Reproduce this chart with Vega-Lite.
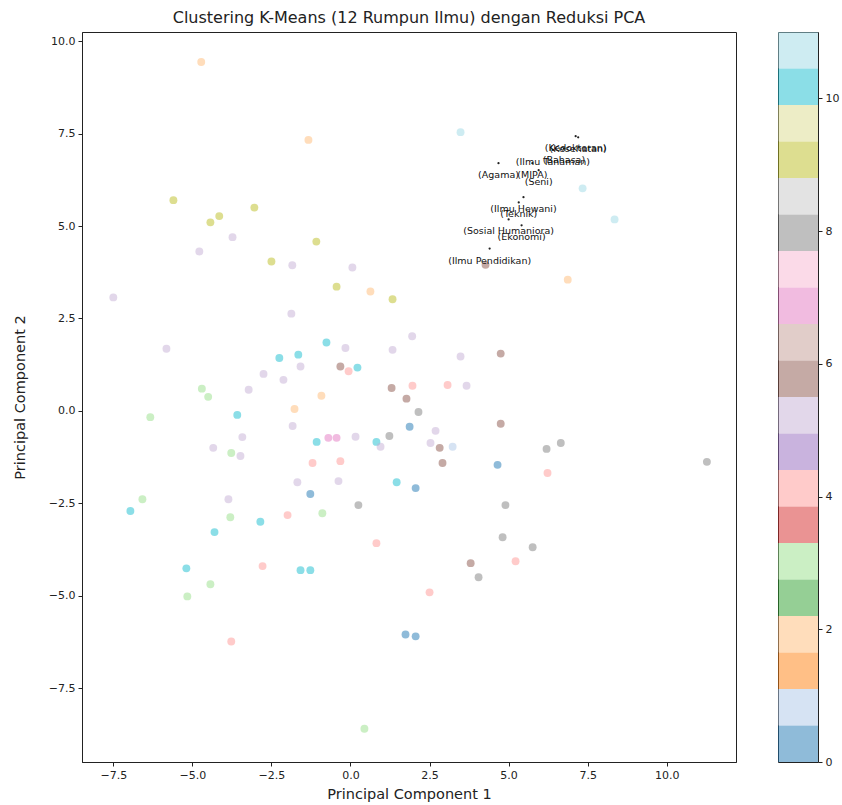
{
  "$schema": "https://vega.github.io/schema/vega-lite/v6.json",
  "background": "white",
  "padding": {"left": 11, "top": 9, "right": 5, "bottom": 5},
  "spacing": 40,
  "config": {
    "font": "DejaVu Sans",
    "view": {"stroke": "#222", "strokeWidth": 1},
    "axis": {
      "grid": false,
      "labelFont": "DejaVu Sans",
      "labelFontSize": 11,
      "labelColor": "#222",
      "titleFont": "DejaVu Sans",
      "titleFontSize": 14.5,
      "titleFontWeight": "normal",
      "titleColor": "#222",
      "tickColor": "#222",
      "domainColor": "#222",
      "tickSize": 4,
      "labelPadding": 3
    }
  },
  "datasets": {
    "points": [
      {"pc1": -4.72, "pc2": 9.44, "cluster": 2},
      {"pc1": -1.33, "pc2": 7.33, "cluster": 2},
      {"pc1": 3.48, "pc2": 7.54, "cluster": 11},
      {"pc1": 7.34, "pc2": 6.02, "cluster": 11},
      {"pc1": 8.35, "pc2": 5.18, "cluster": 11},
      {"pc1": 6.87, "pc2": 3.55, "cluster": 2},
      {"pc1": 4.27, "pc2": 3.95, "cluster": 6},
      {"pc1": -5.6, "pc2": 5.7, "cluster": 9},
      {"pc1": -4.43, "pc2": 5.1, "cluster": 9},
      {"pc1": -4.15, "pc2": 5.27, "cluster": 9},
      {"pc1": -3.04, "pc2": 5.5, "cluster": 9},
      {"pc1": -2.5, "pc2": 4.04, "cluster": 9},
      {"pc1": -1.08, "pc2": 4.58, "cluster": 9},
      {"pc1": -0.44, "pc2": 3.36, "cluster": 9},
      {"pc1": 1.33, "pc2": 3.02, "cluster": 9},
      {"pc1": 0.63, "pc2": 3.23, "cluster": 2},
      {"pc1": -4.78, "pc2": 4.31, "cluster": 5},
      {"pc1": -3.73, "pc2": 4.7, "cluster": 5},
      {"pc1": -1.84, "pc2": 3.94, "cluster": 5},
      {"pc1": 0.06, "pc2": 3.88, "cluster": 5},
      {"pc1": -1.87, "pc2": 2.63, "cluster": 5},
      {"pc1": -7.5, "pc2": 3.07, "cluster": 5},
      {"pc1": -5.82, "pc2": 1.68, "cluster": 5},
      {"pc1": -0.76, "pc2": 1.85, "cluster": 10},
      {"pc1": -0.16, "pc2": 1.7, "cluster": 5},
      {"pc1": 1.33, "pc2": 1.65, "cluster": 5},
      {"pc1": 1.95, "pc2": 2.02, "cluster": 5},
      {"pc1": -2.25, "pc2": 1.43, "cluster": 10},
      {"pc1": -1.65, "pc2": 1.52, "cluster": 10},
      {"pc1": -1.58, "pc2": 1.2, "cluster": 5},
      {"pc1": -0.32, "pc2": 1.2, "cluster": 6},
      {"pc1": -0.06, "pc2": 1.07, "cluster": 4},
      {"pc1": 0.22, "pc2": 1.17, "cluster": 10},
      {"pc1": -2.75, "pc2": 1.0, "cluster": 5},
      {"pc1": -2.12, "pc2": 0.84, "cluster": 5},
      {"pc1": -4.7, "pc2": 0.6, "cluster": 3},
      {"pc1": -4.5, "pc2": 0.38, "cluster": 3},
      {"pc1": -3.22, "pc2": 0.57, "cluster": 5},
      {"pc1": -6.33, "pc2": -0.17, "cluster": 3},
      {"pc1": -3.58, "pc2": -0.11, "cluster": 10},
      {"pc1": -1.77, "pc2": 0.05, "cluster": 2},
      {"pc1": -0.92, "pc2": 0.41, "cluster": 2},
      {"pc1": -1.83, "pc2": -0.41, "cluster": 5},
      {"pc1": 1.3, "pc2": 0.62, "cluster": 6},
      {"pc1": 1.96, "pc2": 0.68, "cluster": 4},
      {"pc1": 1.77, "pc2": 0.33, "cluster": 6},
      {"pc1": 1.87, "pc2": -0.43, "cluster": 0},
      {"pc1": 1.23, "pc2": -0.68, "cluster": 8},
      {"pc1": 0.82, "pc2": -0.84, "cluster": 10},
      {"pc1": 0.95, "pc2": -0.97, "cluster": 5},
      {"pc1": 0.16, "pc2": -0.7, "cluster": 5},
      {"pc1": -0.7, "pc2": -0.73, "cluster": 7},
      {"pc1": -0.44, "pc2": -0.73, "cluster": 7},
      {"pc1": -1.07, "pc2": -0.84, "cluster": 10},
      {"pc1": -3.42, "pc2": -0.71, "cluster": 5},
      {"pc1": -4.34, "pc2": -1.0, "cluster": 5},
      {"pc1": -3.77, "pc2": -1.14, "cluster": 3},
      {"pc1": -3.48, "pc2": -1.22, "cluster": 5},
      {"pc1": -1.2, "pc2": -1.41, "cluster": 4},
      {"pc1": -0.32, "pc2": -1.36, "cluster": 4},
      {"pc1": 1.46, "pc2": -1.93, "cluster": 10},
      {"pc1": -0.38, "pc2": -1.9, "cluster": 5},
      {"pc1": -1.68, "pc2": -1.93, "cluster": 5},
      {"pc1": -1.27, "pc2": -2.25, "cluster": 0},
      {"pc1": 0.25, "pc2": -2.55, "cluster": 8},
      {"pc1": -3.86, "pc2": -2.39, "cluster": 5},
      {"pc1": -6.58, "pc2": -2.39, "cluster": 3},
      {"pc1": -6.96, "pc2": -2.71, "cluster": 10},
      {"pc1": -3.8, "pc2": -2.88, "cluster": 3},
      {"pc1": -1.99, "pc2": -2.82, "cluster": 4},
      {"pc1": -0.89, "pc2": -2.77, "cluster": 3},
      {"pc1": -2.85, "pc2": -3.0, "cluster": 10},
      {"pc1": -4.3, "pc2": -3.28, "cluster": 10},
      {"pc1": 0.82, "pc2": -3.58, "cluster": 4},
      {"pc1": 2.06, "pc2": -2.09, "cluster": 0},
      {"pc1": 3.48, "pc2": 1.47, "cluster": 5},
      {"pc1": 4.75, "pc2": 1.55, "cluster": 6},
      {"pc1": 3.07, "pc2": 0.7, "cluster": 4},
      {"pc1": 3.67, "pc2": 0.68, "cluster": 5},
      {"pc1": 2.15, "pc2": -0.03, "cluster": 8},
      {"pc1": 2.69, "pc2": -0.54, "cluster": 5},
      {"pc1": 2.53, "pc2": -0.87, "cluster": 5},
      {"pc1": 2.82, "pc2": -1.0, "cluster": 6},
      {"pc1": 3.23, "pc2": -0.97, "cluster": 1},
      {"pc1": 2.91, "pc2": -1.41, "cluster": 6},
      {"pc1": 4.75, "pc2": -0.35, "cluster": 6},
      {"pc1": 4.65, "pc2": -1.46, "cluster": 0},
      {"pc1": 6.2, "pc2": -1.03, "cluster": 8},
      {"pc1": 6.65, "pc2": -0.87, "cluster": 8},
      {"pc1": 6.23, "pc2": -1.68, "cluster": 4},
      {"pc1": 11.27, "pc2": -1.38, "cluster": 8},
      {"pc1": 4.9, "pc2": -2.55, "cluster": 8},
      {"pc1": 4.81, "pc2": -3.42, "cluster": 8},
      {"pc1": 5.76, "pc2": -3.69, "cluster": 8},
      {"pc1": 3.8, "pc2": -4.12, "cluster": 6},
      {"pc1": 4.05, "pc2": -4.5, "cluster": 8},
      {"pc1": 5.22, "pc2": -4.07, "cluster": 4},
      {"pc1": 2.5, "pc2": -4.91, "cluster": 4},
      {"pc1": 1.74, "pc2": -6.05, "cluster": 0},
      {"pc1": 2.06, "pc2": -6.1, "cluster": 0},
      {"pc1": -5.19, "pc2": -4.26, "cluster": 10},
      {"pc1": -4.43, "pc2": -4.69, "cluster": 3},
      {"pc1": -5.16, "pc2": -5.02, "cluster": 3},
      {"pc1": -3.77, "pc2": -6.24, "cluster": 4},
      {"pc1": -1.58, "pc2": -4.31, "cluster": 10},
      {"pc1": -1.27, "pc2": -4.31, "cluster": 10},
      {"pc1": 0.44, "pc2": -8.6, "cluster": 3},
      {"pc1": -2.78, "pc2": -4.2, "cluster": 4}
    ],
    "labels": [
      {"pc1": 7.12, "pc2": 7.43, "name": "(Kedokteran)"},
      {"pc1": 7.2, "pc2": 7.4, "name": "(Kesehatan)"},
      {"pc1": 6.4, "pc2": 7.06, "name": "(Ilmu Tanaman)"},
      {"pc1": 6.75, "pc2": 7.1, "name": "(Bahasa)"},
      {"pc1": 4.68, "pc2": 6.7, "name": "(Agama)"},
      {"pc1": 5.75, "pc2": 6.7, "name": "(MIPA)"},
      {"pc1": 5.95, "pc2": 6.51, "name": "(Seni)"},
      {"pc1": 5.47, "pc2": 5.78, "name": "(Ilmu Hewani)"},
      {"pc1": 5.32, "pc2": 5.64, "name": "(Teknik)"},
      {"pc1": 5.0, "pc2": 5.18, "name": "(Sosial Humaniora)"},
      {"pc1": 5.41, "pc2": 5.02, "name": "(Ekonomi)"},
      {"pc1": 4.4, "pc2": 4.39, "name": "(Ilmu Pendidikan)"}
    ],
    "bands": [
      {"band": 0, "lo": 0.0, "hi": 0.55},
      {"band": 1, "lo": 0.55, "hi": 1.1},
      {"band": 2, "lo": 1.1, "hi": 1.65},
      {"band": 3, "lo": 1.65, "hi": 2.2},
      {"band": 4, "lo": 2.2, "hi": 2.75},
      {"band": 5, "lo": 2.75, "hi": 3.3},
      {"band": 6, "lo": 3.3, "hi": 3.85},
      {"band": 7, "lo": 3.85, "hi": 4.4},
      {"band": 8, "lo": 4.4, "hi": 4.95},
      {"band": 9, "lo": 4.95, "hi": 5.5},
      {"band": 10, "lo": 5.5, "hi": 6.05},
      {"band": 11, "lo": 6.05, "hi": 6.6},
      {"band": 12, "lo": 6.6, "hi": 7.15},
      {"band": 13, "lo": 7.15, "hi": 7.7},
      {"band": 14, "lo": 7.7, "hi": 8.25},
      {"band": 15, "lo": 8.25, "hi": 8.8},
      {"band": 16, "lo": 8.8, "hi": 9.35},
      {"band": 17, "lo": 9.35, "hi": 9.9},
      {"band": 18, "lo": 9.9, "hi": 10.45},
      {"band": 19, "lo": 10.45, "hi": 11.0}
    ]
  },
  "resolve": {"scale": {"color": "independent"}},
  "hconcat": [
    {
      "width": 654,
      "height": 730,
      "title": {
        "text": "Clustering K-Means (12 Rumpun Ilmu) dengan Reduksi PCA",
        "font": "DejaVu Sans",
        "fontSize": 16,
        "fontWeight": "normal",
        "color": "#222",
        "offset": 6
      },
      "layer": [
        {
          "data": {"name": "points"},
          "mark": {"type": "circle", "size": 62, "opacity": 0.5},
          "encoding": {
            "x": {
              "field": "pc1", "type": "quantitative",
              "scale": {"domain": [-8.49, 12.19], "nice": false, "zero": false},
              "axis": {"values": [-7.5, -5, -2.5, 0, 2.5, 5, 7.5, 10], "format": ".1f", "title": "Principal Component 1", "titlePadding": 7}
            },
            "y": {
              "field": "pc2", "type": "quantitative",
              "scale": {"domain": [-9.5, 10.25], "nice": false, "zero": false},
              "axis": {"values": [-7.5, -5, -2.5, 0, 2.5, 5, 7.5, 10], "format": ".1f", "title": "Principal Component 2", "titlePadding": 21}
            },
            "color": {
              "field": "cluster", "type": "ordinal",
              "scale": {
                "domain": [0, 1, 2, 3, 4, 5, 6, 7, 8, 9, 10, 11],
                "range": ["#1f77b4", "#aec7e8", "#ffbb78", "#98df8a", "#ff9896", "#c5b0d5", "#8c564b", "#e377c2", "#7f7f7f", "#bcbd22", "#17becf", "#9edae5"]
              },
              "legend": null
            }
          }
        },
        {
          "data": {"name": "labels"},
          "mark": {"type": "circle", "size": 5, "color": "#222", "opacity": 1},
          "encoding": {
            "x": {"field": "pc1", "type": "quantitative"},
            "y": {"field": "pc2", "type": "quantitative"}
          }
        },
        {
          "data": {"name": "labels"},
          "mark": {"type": "text", "fontSize": 9.5, "dy": 12, "color": "#111", "font": "DejaVu Sans"},
          "encoding": {
            "x": {"field": "pc1", "type": "quantitative"},
            "y": {"field": "pc2", "type": "quantitative"},
            "text": {"field": "name"}
          }
        }
      ]
    },
    {
      "width": 40,
      "height": 730,
      "data": {"name": "bands"},
      "mark": {"type": "rect", "opacity": 0.5},
      "encoding": {
        "y": {
          "field": "lo", "type": "quantitative",
          "scale": {"domain": [0, 11], "nice": false, "zero": false},
          "axis": {"orient": "right", "values": [0, 2, 4, 6, 8, 10], "format": "d", "title": null, "domain": false}
        },
        "y2": {"field": "hi"},
        "color": {
          "field": "band", "type": "ordinal",
          "scale": {
            "domain": [0, 1, 2, 3, 4, 5, 6, 7, 8, 9, 10, 11, 12, 13, 14, 15, 16, 17, 18, 19],
            "range": ["#1f77b4", "#aec7e8", "#ff7f0e", "#ffbb78", "#2ca02c", "#98df8a", "#d62728", "#ff9896", "#9467bd", "#c5b0d5", "#8c564b", "#c49c94", "#e377c2", "#f7b6d2", "#7f7f7f", "#c7c7c7", "#bcbd22", "#dbdb8d", "#17becf", "#9edae5"]
          },
          "legend": null
        }
      }
    }
  ]
}
